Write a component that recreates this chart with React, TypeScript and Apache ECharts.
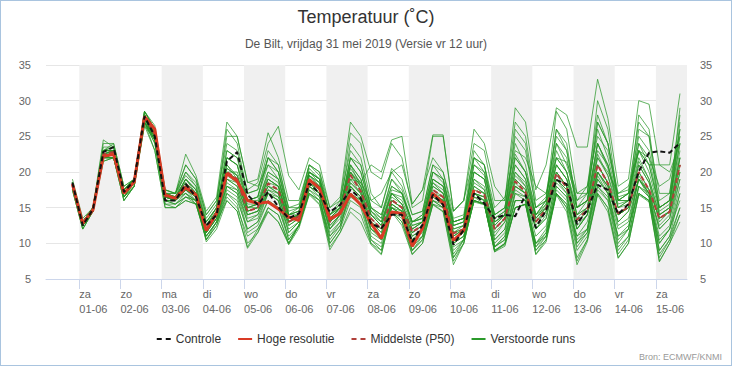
import React, { useEffect, useRef } from "react";
import * as echarts from "echarts";

// Time axis: hours relative to 01-06 00:00; first sample 31-05 20:00, every 6 h
const START_HOUR = -4;
const STEP_HOURS = 6;
const X_MIN = -19.4;
const X_MAX = 354.1;

const dayNames = ["za", "zo", "ma", "di", "wo", "do", "vr", "za", "zo", "ma", "di", "wo", "do", "vr", "za"];
const dayDates = ["01-06", "02-06", "03-06", "04-06", "05-06", "06-06", "07-06", "08-06", "09-06", "10-06", "11-06", "12-06", "13-06", "14-06", "15-06"];
const shadedDays = [0, 2, 4, 6, 8, 10, 12, 14];
const yTicks = [5, 10, 15, 20, 25, 30, 35];

const controle = [18.5, 12.5, 14.8, 22.8, 23.5, 17.2, 18.8, 27.8, 25.0, 16.0, 16.0, 18.3, 16.5, 12.5, 14.0, 21.5, 22.8, 16.8, 15.4, 17.2, 15.1, 13.5, 14.2, 18.4, 17.0, 14.4, 15.4, 17.5, 16.3, 12.8, 12.1, 14.0, 14.0, 10.2, 12.6, 16.8, 15.4, 9.8, 11.9, 17.0, 15.6, 13.5, 14.0, 13.8, 16.8, 12.2, 14.6, 18.9, 18.3, 12.7, 14.7, 18.2, 17.5, 14.1, 15.5, 20.1, 22.7, 22.9, 22.7, 24.1];

const hogeResolutie = [18.3, 12.8, 14.7, 22.2, 22.5, 17.0, 18.6, 27.8, 26.0, 16.8, 16.3, 17.8, 16.8, 11.8, 14.2, 19.8, 18.7, 16.0, 15.6, 15.8, 14.8, 13.7, 13.2, 18.9, 17.7, 13.4, 14.2, 16.9, 15.4, 12.8, 10.7, 14.4, 14.2, 9.6, 12.1, 17.0, 15.6, 10.4, 11.8, 17.5];

const middelste = [18.3, 12.8, 14.8, 22.5, 22.8, 17.0, 18.7, 27.7, 25.3, 16.6, 16.3, 18.3, 16.8, 12.0, 14.3, 20.0, 19.0, 14.5, 15.0, 18.4, 17.5, 13.0, 13.8, 19.0, 17.8, 13.0, 14.5, 19.6, 17.3, 13.5, 12.0, 16.1, 15.0, 11.6, 12.5, 17.5, 16.5, 11.4, 12.0, 17.5, 16.8, 12.0, 13.5, 18.7, 17.2, 13.0, 14.8, 19.8, 17.8, 13.3, 14.7, 21.0, 18.4, 14.2, 15.1, 20.0, 17.5, 13.5, 14.4, 21.0];

const verstoordeRuns: number[][] = [
  [18, 12.5, 14.5, 22, 22.5, 17, 18.5, 27.5, 25, 16.5, 16, 19, 17, 12.5, 14.5, 21, 19.5, 15, 15.5, 19, 18, 13.5, 14, 20, 18.5, 13.5, 15, 21, 18, 14, 12.5, 17, 15.5, 12, 13, 18.5, 17, 12, 12.5, 19, 17.5, 12.5, 14, 20, 18, 13.5, 15, 21, 19, 14, 15, 22.5, 19.5, 15, 15.5, 21.5, 19, 14, 15, 22],
  [18.5, 13, 15, 23, 23, 17.5, 19, 28, 25.5, 17, 16.5, 17, 16, 10.5, 13, 18, 17, 12, 13, 17, 16, 10.5, 12.5, 18, 16.5, 10, 12, 18, 16, 10.5, 9, 15, 14, 9, 11, 17, 15.5, 8, 10.5, 16.5, 15.5, 9.5, 10.5, 17, 16, 9.5, 11.5, 18, 16.5, 10, 11.5, 19.5, 17, 10, 12, 19, 16.5, 9, 11, 17],
  [19, 13.5, 15, 24, 24, 18, 19, 28.5, 26, 17.5, 17, 20, 18.5, 13.5, 15.5, 26, 24, 17, 17.5, 23, 21, 15, 15, 20, 19, 14, 15, 22, 20, 15, 13.5, 18, 17, 13, 14, 20, 18.5, 13, 13.5, 21, 19.5, 14, 15, 22.5, 20, 15, 16.5, 24, 21, 16, 17, 26, 22, 16, 17, 24, 21, 15, 16, 25],
  [17.5, 12, 14.5, 21.5, 22, 16, 18, 27, 24, 15.5, 15.5, 16.5, 15.5, 10.5, 12.5, 17, 15.5, 10, 11.5, 15, 14, 10, 12.5, 17, 16, 9.5, 11.5, 15, 14, 10, 8.5, 14.5, 13, 8.5, 10, 15.5, 14.5, 7.5, 10, 16, 15.5, 9, 10, 15, 15.5, 8.5, 10.5, 17, 15, 7.5, 10.5, 17, 15, 8, 10, 17, 16, 7.5, 10, 13],
  [18.5, 13, 15, 24.5, 23.5, 17.5, 19, 28.5, 26.5, 17.5, 17, 22.5, 19.5, 14.5, 16.5, 27, 25, 18.5, 19, 25.5, 22, 16, 16, 21, 20, 15, 16.5, 27, 25, 20, 19, 24, 22, 15, 16, 25, 25, 14.5, 16, 26, 24, 18, 16, 29, 27, 17.5, 21, 29, 28, 23.5, 23.5, 33, 27.5, 18, 19, 30, 29.5, 21, 21, 31],
  [18, 12.5, 14.5, 22.5, 22.5, 16.5, 18.5, 27, 23, 15, 15, 16, 15.5, 11, 13, 16, 14.5, 9.5, 12, 14.5, 13, 10, 12.5, 17, 16, 11, 12.5, 17, 16, 12, 11, 16, 15, 10, 12, 17, 16.5, 11, 12, 18, 17, 10.5, 12, 19, 17.5, 12, 13.5, 20, 18, 12, 14, 21, 18.5, 13, 14.5, 19, 17.5, 12, 13.5, 20],
  [18, 13, 15, 22, 22, 17, 18.5, 26.5, 24.5, 16.5, 16.5, 18, 17, 12, 14, 20, 20, 16, 16, 20, 19, 14, 14, 19.5, 18, 12.5, 14, 19, 17, 13, 12, 15, 14.5, 11.5, 12.5, 17, 16, 11, 12, 17, 16.5, 11, 13, 18, 17, 12.5, 14.5, 20, 18, 12, 14, 20, 18, 14, 15, 21, 18.5, 13, 14.5, 22],
  [18.5, 12.5, 15, 22.5, 23, 17, 18.5, 28, 25.5, 16.5, 16.5, 19, 17.5, 12.5, 15, 23, 22, 17.5, 18.5, 24, 26.4, 19.5, 17.5, 22, 21, 15, 16, 23, 21, 15, 14, 19, 17, 13, 13.5, 19, 18, 12.5, 13, 20, 19, 13, 14, 21, 19, 14, 15, 22, 20, 15, 16, 24, 21, 15.5, 16, 24, 22, 15, 16, 26],
  [18, 13, 14.5, 23, 23, 17, 19, 27.5, 25, 16, 16, 17.5, 16.5, 11.5, 14, 19, 18, 14, 14.5, 17, 16.5, 12.5, 13.5, 18.5, 17, 12, 14, 18, 16.5, 12.5, 11, 15, 14, 10.5, 12, 16, 15.5, 10, 11, 15.8, 15.4, 8.8, 9.6, 15, 15.4, 10, 11, 17, 15.5, 11, 12, 18, 16, 11, 12.5, 17, 16, 10, 12, 16],
  [18.5, 12.5, 15, 22, 23, 17.5, 18.5, 28, 25, 17, 16.5, 18.5, 17, 12, 14.5, 21, 19, 14.5, 15, 18, 17.5, 13, 14, 19.5, 18, 13, 15, 20, 18, 14, 12.5, 16.5, 15.5, 12, 13, 18, 17, 11.5, 12, 18, 17, 12, 13.5, 19, 17.5, 13, 15, 20, 18, 13.5, 15, 21, 18.5, 14, 15, 20, 17.5, 13.5, 14.5, 21],
  [18, 13, 15, 22.5, 22.5, 16.5, 18.5, 27.5, 25, 16.5, 16, 18, 16.5, 12, 14, 19.5, 18.5, 15, 15, 18.5, 18, 13.5, 14, 20, 19, 14, 16, 25.5, 24, 17, 15, 20, 18, 14, 14.5, 21, 19, 13, 13.5, 22, 20, 14, 15, 24, 21, 14, 16, 26, 23, 16, 18, 28, 24, 17, 17.5, 27, 25, 17, 17, 28],
  [17.5, 12, 14.5, 21.5, 22, 16, 18, 27, 24.5, 15.5, 15, 16.5, 16, 10.2, 12, 16, 14.5, 9.3, 11.5, 14.4, 13, 9.8, 12.1, 16.8, 15.4, 9.1, 11.5, 14.4, 13, 9.8, 8.4, 14.4, 12.5, 8.4, 10, 15.4, 14.4, 7, 10, 16, 15.5, 9, 9.8, 15, 15.5, 8.4, 10.2, 16.8, 14.4, 7, 10.2, 16.8, 14.4, 7.9, 10, 16.8, 15.8, 7.4, 10, 14],
  [18.5, 13, 15, 23, 23.5, 17.5, 19, 28, 25, 17, 16.5, 20, 18, 13, 15, 22, 21, 16, 16.5, 21, 19, 14, 14.5, 20.5, 19, 13.5, 15, 21, 19, 14.5, 13, 17, 16, 12.5, 13, 19, 18, 12, 12.5, 20, 19, 13, 14, 21, 19, 13.5, 15.5, 23, 20, 14, 15, 24, 20.5, 15, 16, 22, 19, 14, 15, 23],
  [18, 12.5, 14.5, 22, 22.5, 17, 18.5, 27, 25, 16.5, 16, 18, 17, 12, 14, 20, 19, 14.5, 15, 19, 18, 13, 14, 19, 18, 13, 14.5, 19, 18.5, 16, 17, 20, 21, 15.5, 17.5, 22, 20, 14.5, 16, 22, 21, 15, 16.5, 23, 22, 18, 17, 22, 21.4, 17, 18, 25, 23, 16.5, 17, 23, 22, 18, 19, 25],
  [18, 12.5, 14.5, 22, 22, 16.5, 18, 27, 24, 16, 15.5, 17, 15.5, 11, 13, 17, 16, 12, 13, 16, 15, 11, 12.5, 17.5, 16.5, 11, 13, 17, 16, 11, 10, 15, 14, 9.5, 11, 16, 15, 9, 10.5, 16, 15.5, 9.5, 11, 16, 16, 9, 11, 17.5, 16, 9.5, 11.5, 18, 16.5, 9.5, 11, 18, 17, 9, 11, 15],
  [18.5, 13, 15, 23, 23, 17, 19, 28, 25.5, 17, 16.5, 19, 17.5, 12.5, 14.5, 22, 21, 15, 15.5, 20, 19, 13.5, 14, 19.5, 18.5, 13, 14.5, 21, 19, 14, 13, 17.5, 17, 12.5, 13, 20, 19, 12.5, 13, 22, 21, 13, 14, 26, 24, 15, 16, 28.5, 26, 17, 17, 30, 26, 16, 16, 26, 25, 14, 15, 27],
  [18, 12.5, 14.5, 22.5, 23, 17, 18.5, 27.5, 24.5, 16, 16, 17, 16, 11.5, 13.5, 18, 17, 13, 14, 17, 16, 12, 13, 18, 17, 12, 14, 18, 16.5, 12, 11, 15.5, 14.5, 11, 12, 16.5, 15.5, 10.5, 11.5, 17, 16, 10, 11.5, 17, 16.5, 11, 12.5, 18.5, 17, 11, 13, 19, 17, 12, 13, 19, 17, 11, 12.5, 19],
  [18.5, 13, 15, 23, 24, 18, 19, 28.5, 26, 17, 17, 21, 19, 14, 16, 25, 25, 18.6, 18, 21, 20, 15, 15.5, 21, 19.5, 14, 15.5, 20, 18.5, 21, 20, 24.5, 25, 15.5, 17.5, 25.2, 25.2, 14.5, 16, 24, 23, 16, 16, 27, 25, 16, 17, 25, 23, 15, 16, 23, 21, 16, 17, 23, 21, 15, 16, 24],
  [17.5, 12, 14.5, 22, 22, 16, 18, 26.5, 23, 15, 15, 16, 15.5, 10.5, 12.5, 16.5, 15, 11, 12, 15, 14, 10, 12.5, 17, 15.5, 10, 12, 16, 15, 10, 9, 14.5, 13, 9, 10.5, 16, 15, 8, 10, 16, 15.5, 8.8, 10, 15, 15.5, 9, 10.5, 17, 15, 8, 10.5, 17, 15, 8.5, 10.5, 17, 16, 8, 10.5, 14],
  [18, 13, 15, 22.5, 23, 17, 18.5, 27.5, 25.5, 16.5, 16.5, 18.5, 17, 12, 14, 20.5, 19.5, 15, 15.5, 19, 18, 13, 13.5, 19, 18, 13, 14.5, 20, 17.5, 13.5, 12, 16, 15, 11.5, 12.5, 17.5, 16.5, 11.5, 12, 17.5, 17, 12, 13.5, 18.5, 17, 13, 14.5, 19.5, 18, 13, 14.5, 21, 18.5, 14, 15, 20, 17.5, 13.5, 14.5, 21],
  [18, 12.5, 14.5, 22, 22.5, 17, 18.5, 27.5, 25, 16.5, 16, 18, 16.5, 12, 14, 19, 18.5, 14, 14.5, 18, 17, 13, 14, 18.5, 17.5, 13, 14.5, 22, 21, 15, 14, 18, 17, 13, 13.5, 19, 18, 12.5, 13, 20, 19, 12.5, 14, 22, 20, 13.5, 15, 24, 22, 15, 16, 27, 24, 16, 16, 28, 26, 15, 16, 29],
  [18.5, 13, 15, 23, 23, 17, 19, 28, 25, 16.5, 16.5, 18, 16.5, 12, 14.5, 20, 19, 14.5, 15, 18, 17, 13, 14, 19, 18, 13, 14.5, 19.5, 17.5, 13, 11.5, 16, 15, 11.5, 12.5, 17, 16, 11, 12, 17, 16.5, 11.5, 13, 18, 17, 12, 14, 19, 17.5, 12.5, 14, 20, 18, 13, 14.5, 19, 17, 12.5, 14, 20],
  [18, 12.5, 15, 22, 22.5, 17, 18.5, 27.5, 24.5, 16.5, 16, 17.5, 16.5, 11.5, 13.5, 19, 18, 14, 14.5, 17.5, 16.5, 12.5, 13.5, 18.5, 17.5, 12.5, 14, 18.5, 17, 13, 11.5, 15.5, 14.5, 11, 12, 17, 16, 10, 11, 16.5, 16, 9.5, 10.5, 16, 16, 10, 11.5, 18, 16.5, 10.5, 12, 19, 17, 11, 12, 18, 16.5, 10.5, 12, 17],
  [18.5, 13, 15, 23.5, 23.5, 17.5, 19, 28, 25.5, 17, 16.5, 19, 17.5, 13, 15, 23, 22, 16, 16.5, 22, 20, 14, 15, 21, 20, 14, 15.5, 24, 22, 16, 15, 20.5, 19, 14, 14.5, 21, 20, 13.5, 14, 23, 21, 14, 15, 25, 23, 15, 16, 26, 24, 15, 17, 27, 24, 16, 17, 25, 23, 16, 17, 26],
  [18, 12.5, 14.5, 22, 22, 16.5, 18, 27, 24.5, 16, 16, 17.5, 16, 11.5, 13.5, 18.5, 17.5, 13, 13.5, 17, 16, 11.5, 13, 18, 17, 12, 13.5, 18, 16.5, 12, 10.5, 15, 14, 10.5, 11.5, 16.5, 15.5, 10, 11, 17, 16, 10.5, 12, 18, 17, 12, 13.5, 19, 17.5, 12, 14, 20, 18, 12.5, 13.5, 19, 17, 12, 13.5, 19],
  [18.5, 13, 15, 23, 23, 17.5, 19, 28, 26, 17, 17, 19.5, 18, 13, 15, 22, 21, 16, 16.5, 22, 21, 14.5, 15, 20, 19, 14, 15, 22, 20, 14.5, 13.5, 19, 17.5, 13, 14, 20, 19, 13, 13.5, 21, 20, 13.5, 14.5, 22, 20, 14, 15.5, 22, 20, 14, 16, 24, 21, 15, 16, 23, 20, 14.5, 15.5, 24],
  [18, 12.5, 14.5, 22, 22.5, 16.5, 18.5, 27, 24.5, 16, 15.5, 16.5, 16, 11, 13, 17.5, 16.5, 11.5, 12.5, 16, 15, 10.5, 12.5, 17.5, 16, 10.5, 12.5, 16.5, 15.5, 10.5, 9.5, 14.5, 13.5, 9, 10.5, 15.5, 15, 8.5, 10.5, 16, 15.5, 9, 10, 16, 16, 9.5, 11, 17, 15.5, 9, 11, 17.5, 16, 9, 11, 18, 16.5, 8.5, 10.5, 15],
  [18, 13, 15, 22.5, 23, 17, 18.5, 27.5, 25, 16.5, 16.5, 18, 17, 12.5, 14.5, 20.5, 19.5, 15.5, 15.5, 19.5, 18.5, 14, 14.5, 19.5, 18.5, 13.5, 15, 20.5, 18.5, 14.5, 13, 17, 16.5, 13, 13.5, 18.5, 17.5, 13, 13.5, 19, 18, 13.5, 14.5, 20, 18.5, 14, 16, 21, 19, 15, 16, 22, 20, 17, 18, 23, 21, 21, 20, 24],
  [18, 12.5, 14.5, 22, 22, 17, 18.5, 27, 25, 16, 16, 17.5, 16.5, 11.5, 13.5, 18, 17.5, 13.5, 14, 17.5, 17, 11.5, 13, 18.5, 17, 11.5, 13, 18.5, 17, 11.5, 10.5, 15.5, 14.5, 10, 11, 17, 16, 9.5, 10.5, 17, 16.5, 9.5, 11, 17.5, 16.5, 10, 12, 19, 17, 10, 12, 20, 17.5, 10.5, 12, 19.5, 17, 10, 12, 18],
  [18.5, 13, 15, 23, 23.5, 17.5, 19, 28.5, 26, 17.5, 17, 21, 19, 14, 16, 24, 23, 17, 17.5, 22, 20, 14, 14.5, 20, 19, 13.5, 15, 20, 18, 14, 12.5, 17, 15.5, 12, 13, 18, 17, 11.5, 12.5, 18.5, 17.5, 12, 13.5, 19.5, 18, 13, 14.5, 21, 19, 13, 14.5, 22, 19.5, 14, 15, 21, 18.5, 13.5, 14.5, 22],
];

const toPoints = (values: number[]) => values.map((v, i) => [START_HOUR + i * STEP_HOURS, v]);

const DASH_ICON = "path://M0,0H5V2H0Z M9,0H14V2H9Z";
const LINE_ICON = "path://M0,0H14V2H0Z";

export default function App() {
  const ref = useRef<HTMLDivElement>(null);

  useEffect(() => {
    document.body.style.margin = "0";
    if (!ref.current) return;
    const chart = echarts.init(ref.current, undefined, { renderer: "svg" });
    const font = "'Liberation Sans', Arial, sans-serif";
    const dayTicks = dayDates.map((_, d) => d * 24);

    const greenSeries = verstoordeRuns.map((run) => ({
      type: "line",
      name: "Verstoorde runs",
      data: toPoints(run),
      symbol: "none",
      silent: true,
      lineStyle: { color: "rgba(38,150,38,0.72)", width: 1 },
      itemStyle: { color: "#2b9a2b" },
      z: 2,
    }));

    chart.setOption({
      animation: false,
      textStyle: { fontFamily: font },
      title: [
        { text: "Temperatuur (˚C)", left: "center", top: 3, textStyle: { fontSize: 18, fontWeight: "normal", color: "#333", fontFamily: font } },
        { text: "De Bilt, vrijdag 31 mei 2019 (Versie vr 12 uur)", left: "center", top: 33, textStyle: { fontSize: 12, fontWeight: "normal", color: "#555", fontFamily: font } },
      ],
      grid: { left: 46, right: 45, top: 65, bottom: 87 },
      legend: {
        bottom: 16,
        left: "center",
        itemWidth: 14,
        itemHeight: 2,
        itemGap: 17,
        textStyle: { fontSize: 12, color: "#333", fontFamily: font },
        data: [
          { name: "Controle", icon: DASH_ICON, itemStyle: { color: "#111" } },
          { name: "Hoge resolutie", icon: LINE_ICON, itemStyle: { color: "#d93a25" } },
          { name: "Middelste (P50)", icon: DASH_ICON, itemStyle: { color: "#b0403a" } },
          { name: "Verstoorde runs", icon: LINE_ICON, itemStyle: { color: "#2b9a2b" } },
        ],
      },
      graphic: [
        { type: "text", right: 10, bottom: 5, style: { text: "Bron: ECMWF/KNMI", fontSize: 9, fill: "#999", fontFamily: font } },
      ],
      xAxis: {
        type: "value",
        min: X_MIN,
        max: X_MAX,
        splitLine: { show: false },
        axisLine: { show: true, lineStyle: { color: "#ccd6eb" } },
        axisTick: { show: true, customValues: dayTicks, length: 10, lineStyle: { color: "#ccd6eb" } },
        axisLabel: {
          customValues: dayTicks,
          align: "left",
          margin: 7,
          lineHeight: 15,
          fontSize: 11,
          color: "#666",
          formatter: (v: number) => {
            const d = Math.round(v / 24);
            return `${dayNames[d]}\n${dayDates[d]}`;
          },
        },
      },
      yAxis: [
        {
          type: "value",
          min: yTicks[0],
          max: yTicks[yTicks.length - 1],
          interval: 5,
          position: "left",
          axisLine: { show: false },
          axisTick: { show: false },
          splitLine: { lineStyle: { color: "#e6e6e6" } },
          axisLabel: { fontSize: 11, color: "#666", margin: 15 },
        },
        {
          type: "value",
          min: yTicks[0],
          max: yTicks[yTicks.length - 1],
          interval: 5,
          position: "right",
          axisLine: { show: false },
          axisTick: { show: false },
          splitLine: { show: false },
          axisLabel: { fontSize: 11, color: "#666", margin: 13 },
        },
      ],
      series: [
        {
          type: "line",
          name: "__bands",
          data: [],
          silent: true,
          z: 1,
          markArea: {
            silent: true,
            itemStyle: { color: "#f0f0f0" },
            data: shadedDays.map((d) => [{ xAxis: d * 24 }, { xAxis: Math.min(d * 24 + 24, X_MAX) }]),
          },
        },
        ...greenSeries,
        {
          type: "line",
          name: "Middelste (P50)",
          data: toPoints(middelste),
          symbol: "none",
          lineStyle: { color: "#b0403a", width: 2, type: [5, 3] },
          itemStyle: { color: "#b0403a" },
          z: 3,
        },
        {
          type: "line",
          name: "Hoge resolutie",
          data: toPoints(hogeResolutie),
          symbol: "none",
          lineStyle: { color: "#d93a25", width: 3 },
          itemStyle: { color: "#d93a25" },
          z: 4,
        },
        {
          type: "line",
          name: "Controle",
          data: toPoints(controle),
          symbol: "none",
          lineStyle: { color: "#111", width: 2, type: [5, 3] },
          itemStyle: { color: "#111" },
          z: 5,
        },
      ],
    });

    return () => chart.dispose();
  }, []);

  return (
    <div style={{ position: "fixed", left: 0, top: 0, width: 732, height: 366, background: "#fff" }}>
      <div ref={ref} style={{ width: 732, height: 366 }} />
      <div
        style={{
          position: "absolute",
          left: 0,
          top: 0,
          width: 732,
          height: 366,
          boxSizing: "border-box",
          border: "1px solid #a9c4df",
          pointerEvents: "none",
        }}
      />
    </div>
  );
}
